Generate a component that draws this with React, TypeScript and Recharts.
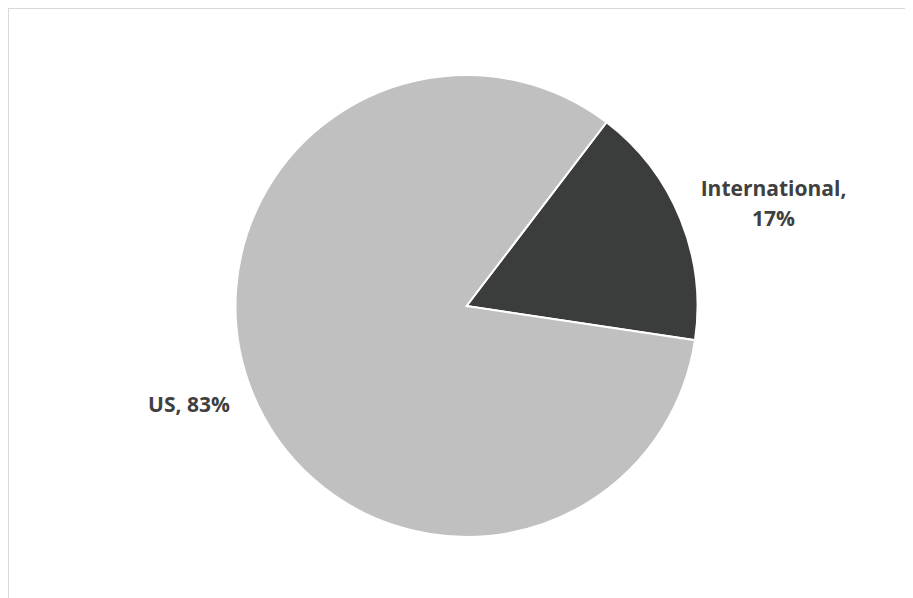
import { PieChart, Pie, Cell } from 'recharts';

const names = ['International', 'US'];
const shares = [17, 83];
const COLORS = ['#3b3d3c', '#bfc0bf'];
// label placement relative to the slice mid angle (degrees) and radius factor
const labelAngleShift = [-3.8, -2.4];
const labelRadius = [1.4, 1.276];
const labelLines = [['International,', '17%'], ['US, 83%']];

const data = names.map((name, i) => ({ name, value: shares[i] }));

const RADIAN = Math.PI / 180;

const renderLabel = (props: any) => {
  const { cx, cy, midAngle, outerRadius, index } = props;
  const a = (midAngle + labelAngleShift[index]) * RADIAN;
  const r = outerRadius * labelRadius[index];
  const x = cx + r * Math.cos(a);
  const y = cy - r * Math.sin(a);
  const lines = labelLines[index];
  const lh = 30;
  const top = y - ((lines.length - 1) * lh) / 2 + 7;
  return (
    <text
      x={x}
      y={top}
      textAnchor="middle"
      fill="#404040"
      fontFamily="Open Sans"
      fontWeight="bold"
      fontSize={21}
    >
      {lines.map((l, k) => (
        <tspan key={k} x={x} y={top + k * lh}>
          {l}
        </tspan>
      ))}
    </text>
  );
};

export default function App() {
  return (
    <div
      style={{
        width: 905,
        height: 590,
        borderTop: '1px solid #d9d9d9',
        borderLeft: '1px solid #d9d9d9',
        background: '#fff',
      }}
    >
      <PieChart width={904} height={589}>
        <Pie
          data={data}
          dataKey="value"
          nameKey="name"
          cx={452.5}
          cy={292}
          outerRadius={231}
          startAngle={52.7}
          endAngle={52.7 - 360}
          stroke="#ffffff"
          strokeWidth={2}
          label={renderLabel}
          labelLine={false}
          isAnimationActive={false}
        >
          {data.map((d, i) => (
            <Cell key={d.name} fill={COLORS[i]} />
          ))}
        </Pie>
      </PieChart>
    </div>
  );
}
